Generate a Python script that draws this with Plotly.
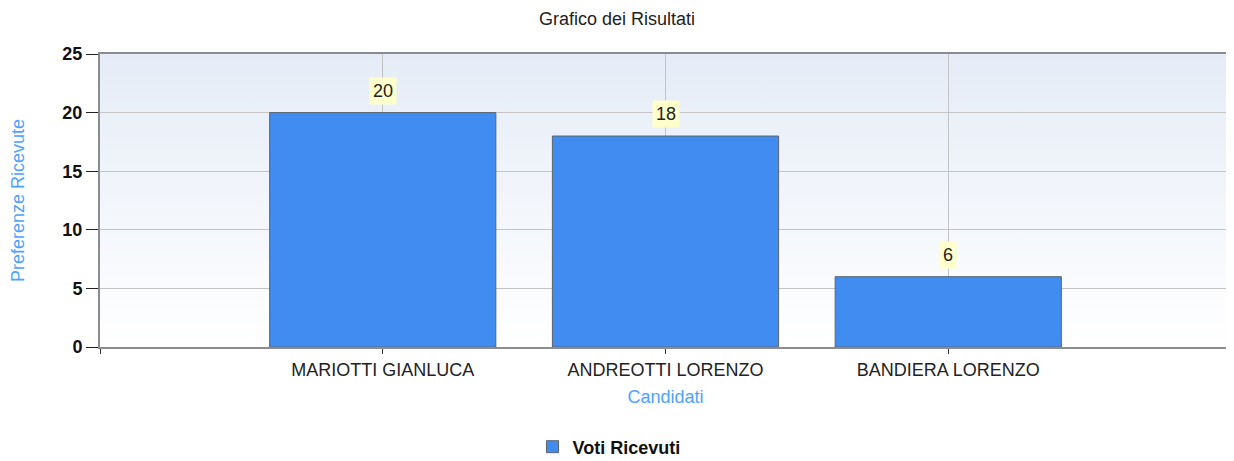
import base64
import plotly.graph_objects as go

title = "Grafico dei Risultati"
candidati = ["MARIOTTI GIANLUCA", "ANDREOTTI LORENZO", "BANDIERA LORENZO"]
voti = [20, 18, 6]
series_name = "Voti Ricevuti"
x_title = "Candidati"
y_title = "Preferenze Ricevute"
y_ticks = [0, 5, 10, 15, 20, 25]

positions = list(range(1, len(candidati) + 1))
FONT = "Liberation Sans"
FS = 18
W, H = 1226, 453  # page body has an 8px margin

svg = ('<svg xmlns="http://www.w3.org/2000/svg" width="100" height="100" preserveAspectRatio="none">'
       '<defs><linearGradient id="g" x1="0" y1="0" x2="0" y2="1">'
       '<stop offset="0" stop-color="#E5ECF7"/><stop offset="1" stop-color="#FFFFFF"/>'
       '</linearGradient></defs><rect width="100" height="100" fill="url(#g)"/></svg>')
bg_src = "data:image/svg+xml;base64," + base64.b64encode(svg.encode()).decode()

fig = go.Figure()
fig.add_trace(go.Bar(
    x=positions, y=voti, name=series_name, width=0.8,
    marker=dict(color="#418CF0", line=dict(color="#5A6470", width=1)),
    showlegend=True,
))

for xp, v in zip(positions, voti):
    fig.add_annotation(x=xp, y=v, text=str(v), showarrow=False, yanchor="bottom",
                       yshift=8, bgcolor="#FFFFCC", borderpad=3,
                       font=dict(family=FONT, size=FS, color="#222"))

fig.add_layout_image(dict(source=bg_src, xref="paper", yref="paper", x=0, y=1,
                          sizex=1, sizey=1, sizing="stretch", xanchor="left",
                          yanchor="top", layer="below"))

fig.update_layout(
    width=W, height=H,
    margin=dict(l=92, r=3, t=46, b=114, autoexpand=False),
    paper_bgcolor="white", plot_bgcolor="rgba(0,0,0,0)",
    title=dict(text=title, x=609 / W, xref="container", xanchor="center",
               y=1 - 4 / H, yref="container", yanchor="top", pad=dict(t=0),
               font=dict(family=FONT, size=18, color="#222")),
    showlegend=True,
    legend=dict(orientation="h", xref="container", yref="container",
                x=601 / W, xanchor="center", y=1 - 439 / H, yanchor="middle",
                font=dict(family=FONT, size=FS, color="#111", weight="bold"),
                bgcolor="rgba(0,0,0,0)"),
    bargap=0.2,
)
fig.update_xaxes(
    range=[0, 4], tickmode="array", tickvals=[0] + positions + [4],
    ticktext=[""] + candidati + [""],
    showgrid=True, gridcolor="#C4C4C4", gridwidth=1,
    showline=True, linecolor="#8C8C8C", linewidth=2, mirror=True,
    ticks="outside", ticklen=5, tickcolor="#333",
    tickfont=dict(family=FONT, size=FS, color="#222"),
    title=dict(text=x_title, standoff=12, font=dict(family=FONT, size=FS, color="#4DA3FF")),
    zeroline=False, automargin=False,
)
fig.update_yaxes(
    range=[0, 25], tickmode="array", tickvals=y_ticks,
    showgrid=True, gridcolor="#C4C4C4", gridwidth=1,
    showline=True, linecolor="#8C8C8C", linewidth=2, mirror=True,
    ticks="outside", ticklen=12, tickcolor="#222",
    tickfont=dict(family=FONT, size=FS, color="#111", weight="bold"),
    title=dict(text=y_title, standoff=33, font=dict(family=FONT, size=FS, color="#4DA3FF")),
    zeroline=False, automargin=False,
)

fig.write_html("out.html")
